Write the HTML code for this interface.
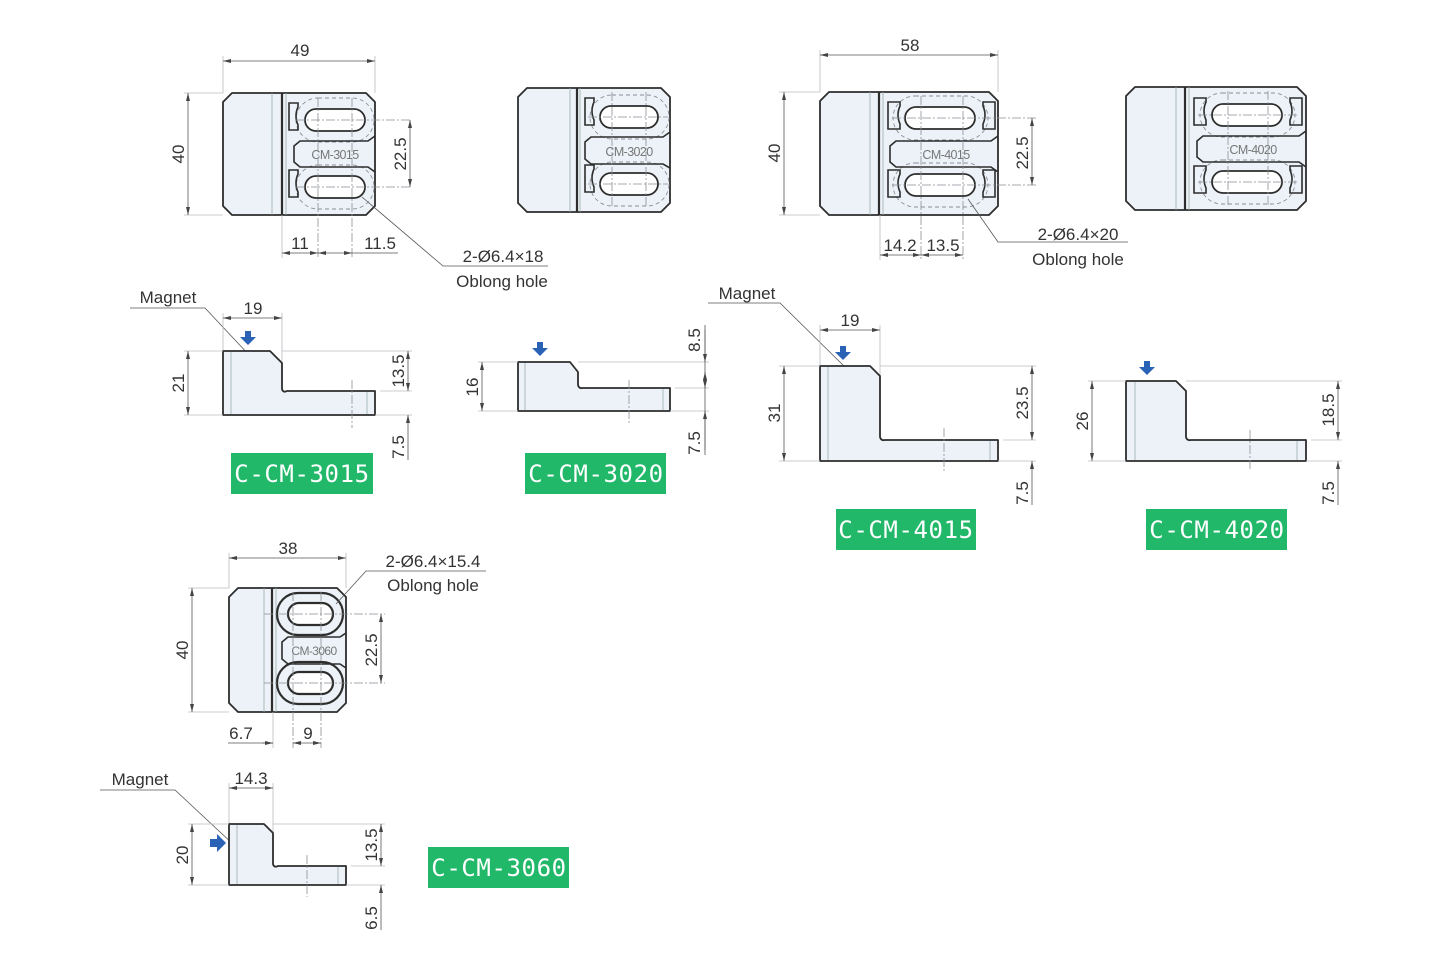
<!DOCTYPE html>
<html><head><meta charset="utf-8"><style>
html,body{margin:0;padding:0;background:#fff}
svg{display:block}
.o{stroke:#2d2d2d;stroke-width:1.8;fill:#ecf2f7;stroke-linejoin:round}
.w{stroke:#2d2d2d;stroke-width:1.8;fill:#fff}
.k{stroke:#2d2d2d;stroke-width:1.6;fill:none}
.t{stroke:#9aa;stroke-width:0.8;fill:none}
.d{stroke:#8a8f95;stroke-width:0.9;fill:none;stroke-dasharray:4 3}
.c{stroke:#8a8f95;stroke-width:0.8;fill:none;stroke-dasharray:9 2 2 2}
.e{stroke:#b8bcc0;stroke-width:0.8;fill:none}
.m{stroke:#555;stroke-width:0.8;fill:none}
.a{stroke:#555;stroke-width:0.8;fill:none;marker-start:url(#ar);marker-end:url(#ar)}
.a1{stroke:#555;stroke-width:0.8;fill:none;marker-start:url(#ar)}
text{font-family:"Liberation Sans","DejaVu Sans",sans-serif;font-size:17px;fill:#333}
.lab{font-family:"DejaVu Sans Mono","Liberation Mono",monospace;font-size:24px;fill:#fff;letter-spacing:0.6px}
.cm{font-size:12.5px;fill:#777;letter-spacing:-0.6px}
.g{fill:#22b86a}
.b{fill:#2a62b5}
</style></head><body>
<svg width="1450" height="972" viewBox="0 0 1450 972" xmlns="http://www.w3.org/2000/svg">
<defs>
<marker id="ar" viewBox="0 0 10 6" refX="10" refY="3" markerWidth="8" markerHeight="5" orient="auto-start-reverse" markerUnits="userSpaceOnUse"><path d="M10,3 L0,0.5 L0,5.5 Z" fill="#444"/></marker>
</defs>

<!-- ============ C-CM-3015 TOP ============ -->
<line class="e" x1="223" y1="56" x2="223" y2="93"/><line class="e" x1="375" y1="56" x2="375" y2="93"/>
<line class="a" x1="223" y1="61" x2="375" y2="61"/><text x="300" y="56" text-anchor="middle">49</text>
<line class="e" x1="184" y1="93" x2="223" y2="93"/><line class="e" x1="184" y1="215" x2="223" y2="215"/>
<line class="a" x1="188" y1="93" x2="188" y2="215"/><text transform="translate(184,154) rotate(-90)" text-anchor="middle">40</text>
<path class="o" d="M232,93 H366 L375,102 V206 L366,215 H232 L223,206 V102 Z"/>
<line class="t" x1="272" y1="93" x2="272" y2="215"/><line class="k" x1="282" y1="93" x2="282" y2="215" style="stroke-width:2.2"/><line class="t" x1="286" y1="93" x2="286" y2="215"/>
<rect class="d" x="296" y="98" width="78" height="44" rx="22"/><rect class="d" x="296" y="165" width="78" height="44" rx="22"/>
<path class="k" d="M289,103 h9 v4 q-4,9 0,18 v5 h-9 z M289,170 h9 v4 q-4,9 0,18 v5 h-9 z"/>
<path class="k" d="M375,136 L368,141 H300 L294,146 V162 L300,167 H368 L375,172"/>
<text class="cm" x="335" y="159" text-anchor="middle">CM-3015</text>
<rect class="w" x="305" y="109" width="60" height="22" rx="11"/><rect class="w" x="305" y="176" width="60" height="22" rx="11"/>
<line class="c" x1="296" y1="120" x2="412" y2="120"/><line class="c" x1="296" y1="187" x2="412" y2="187"/>
<line class="c" x1="318" y1="98" x2="318" y2="258"/><line class="c" x1="352" y1="98" x2="352" y2="258"/>
<line class="e" x1="282" y1="215" x2="282" y2="258"/>
<line class="a" x1="410" y1="120" x2="410" y2="187"/><text transform="translate(406,154) rotate(-90)" text-anchor="middle">22.5</text>
<line class="a" x1="282" y1="253" x2="318" y2="253"/><line class="a" x1="318" y1="253" x2="352" y2="253"/><line class="m" x1="352" y1="253" x2="398" y2="253"/>
<text x="300" y="249" text-anchor="middle">11</text><text x="380" y="249" text-anchor="middle">11.5</text>
<polyline class="m" points="362,197 443,266 548,266"/>
<text x="503" y="262" text-anchor="middle">2-Ø6.4×18</text><text x="502" y="287" text-anchor="middle">Oblong hole</text>

<!-- ============ C-CM-3020 TOP ============ -->
<path class="o" d="M527,88 H661 L670,97 V203 L661,212 H527 L518,203 V97 Z"/>
<line class="t" x1="570" y1="88" x2="570" y2="212"/><line class="k" x1="577" y1="88" x2="577" y2="212" style="stroke-width:2.2"/><line class="t" x1="580" y1="88" x2="580" y2="212"/>
<rect class="d" x="590" y="95" width="79" height="44" rx="22"/><rect class="d" x="590" y="162" width="79" height="44" rx="22"/>
<path class="k" d="M585,98 h9 v4 q-4,9 0,18 v5 h-9 z M585,165 h9 v4 q-4,9 0,18 v5 h-9 z"/>
<path class="k" d="M670,132 L663,137 H591 L585,142 V159 L591,164 H663 L670,168"/>
<text class="cm" x="629" y="156" text-anchor="middle">CM-3020</text>
<rect class="w" x="600" y="106" width="58" height="22" rx="11"/><rect class="w" x="600" y="173" width="58" height="22" rx="11"/>
<line class="c" x1="588" y1="117" x2="668" y2="117"/><line class="c" x1="588" y1="184" x2="668" y2="184"/>
<line class="c" x1="612" y1="92" x2="612" y2="208"/><line class="c" x1="646" y1="92" x2="646" y2="208"/>

<!-- ============ C-CM-4015 TOP ============ -->
<line class="e" x1="820" y1="50" x2="820" y2="92"/><line class="e" x1="998" y1="50" x2="998" y2="92"/>
<line class="a" x1="820" y1="55" x2="998" y2="55"/><text x="910" y="51" text-anchor="middle">58</text>
<line class="e" x1="779" y1="92" x2="820" y2="92"/><line class="e" x1="779" y1="215" x2="820" y2="215"/>
<line class="a" x1="784" y1="92" x2="784" y2="215"/><text transform="translate(780,153) rotate(-90)" text-anchor="middle">40</text>
<path class="o" d="M829,92 H989 L998,101 V206 L989,215 H829 L820,206 V101 Z"/>
<line class="t" x1="870" y1="92" x2="870" y2="215"/><line class="k" x1="879" y1="92" x2="879" y2="215" style="stroke-width:2.2"/><line class="t" x1="883" y1="92" x2="883" y2="215"/>
<rect class="d" x="893" y="96" width="95" height="44" rx="22"/><rect class="d" x="893" y="163" width="95" height="44" rx="22"/>
<path class="k" d="M888,102 h12 v4 q-4,9 0,18 v5 h-12 z M888,170 h12 v4 q-4,9 0,18 v5 h-12 z M995,102 h-12 v4 q4,9 0,18 v5 h12 z M995,170 h-12 v4 q4,9 0,18 v5 h12 z"/>
<path class="k" d="M998,136 L991,141 H896 L890,146 V162 L896,167 H991 L998,172"/>
<text class="cm" x="946" y="159" text-anchor="middle">CM-4015</text>
<rect class="w" x="905" y="107" width="70" height="22" rx="11"/><rect class="w" x="905" y="174" width="70" height="22" rx="11"/>
<line class="c" x1="892" y1="118" x2="1036" y2="118"/><line class="c" x1="892" y1="185" x2="1036" y2="185"/>
<line class="c" x1="921" y1="96" x2="921" y2="260"/><line class="c" x1="963" y1="96" x2="963" y2="260"/>
<line class="e" x1="880" y1="215" x2="880" y2="260"/>
<line class="a" x1="1032" y1="118" x2="1032" y2="185"/><text transform="translate(1028,153) rotate(-90)" text-anchor="middle">22.5</text>
<line class="a" x1="880" y1="255" x2="921" y2="255"/><line class="a" x1="921" y1="255" x2="963" y2="255"/>
<text x="900" y="251" text-anchor="middle">14.2</text><text x="943" y="251" text-anchor="middle">13.5</text>
<polyline class="m" points="968,199 998,242 1128,242"/>
<text x="1078" y="240" text-anchor="middle">2-Ø6.4×20</text><text x="1078" y="265" text-anchor="middle">Oblong hole</text>

<!-- ============ C-CM-4020 TOP ============ -->
<path class="o" d="M1135,87 H1297 L1306,96 V201 L1297,210 H1135 L1126,201 V96 Z"/>
<line class="t" x1="1176" y1="87" x2="1176" y2="210"/><line class="k" x1="1185" y1="87" x2="1185" y2="210" style="stroke-width:2.2"/><line class="t" x1="1189" y1="87" x2="1189" y2="210"/>
<rect class="d" x="1200" y="93" width="95" height="44" rx="22"/><rect class="d" x="1200" y="160" width="95" height="44" rx="22"/>
<path class="k" d="M1194,98 h12 v4 q-4,9 0,18 v5 h-12 z M1194,166 h12 v4 q-4,9 0,18 v5 h-12 z M1302,98 h-12 v4 q4,9 0,18 v5 h12 z M1302,166 h-12 v4 q4,9 0,18 v5 h12 z"/>
<path class="k" d="M1306,131 L1299,136 H1203 L1197,141 V157 L1203,162 H1299 L1306,167"/>
<text class="cm" x="1253" y="154" text-anchor="middle">CM-4020</text>
<rect class="w" x="1212" y="104" width="70" height="22" rx="11"/><rect class="w" x="1212" y="171" width="70" height="22" rx="11"/>
<line class="c" x1="1198" y1="115" x2="1298" y2="115"/><line class="c" x1="1198" y1="182" x2="1298" y2="182"/>
<line class="c" x1="1228" y1="91" x2="1228" y2="206"/><line class="c" x1="1268" y1="91" x2="1268" y2="206"/>

<!-- ============ C-CM-3015 SIDE ============ -->
<text x="168" y="303" text-anchor="middle">Magnet</text>
<polyline class="m" points="130,308 205,308 250,356"/>
<line class="e" x1="223" y1="313" x2="223" y2="351"/><line class="e" x1="282" y1="313" x2="282" y2="361"/>
<line class="a" x1="223" y1="318" x2="282" y2="318"/><text x="253" y="314" text-anchor="middle">19</text>
<path class="o" d="M223,351 H270 L282,363 V389 Q283,393 287,391 H375 V415 H223 Z"/>
<line class="t" x1="231" y1="352" x2="231" y2="414"/><line class="t" x1="367" y1="392" x2="367" y2="414"/>
<line class="c" x1="352" y1="380" x2="352" y2="428"/>
<line class="e" x1="184" y1="351" x2="223" y2="351"/><line class="e" x1="184" y1="415" x2="223" y2="415"/>
<line class="e" x1="282" y1="351" x2="412" y2="351"/><line class="e" x1="380" y1="391" x2="412" y2="391"/><line class="e" x1="375" y1="415" x2="412" y2="415"/>
<line class="a" x1="188" y1="351" x2="188" y2="415"/><text transform="translate(184,383) rotate(-90)" text-anchor="middle">21</text>
<line class="a" x1="408" y1="351" x2="408" y2="391"/><line class="a1" x1="408" y1="415" x2="408" y2="460"/>
<text transform="translate(404,371) rotate(-90)" text-anchor="middle">13.5</text><text transform="translate(404,447) rotate(-90)" text-anchor="middle">7.5</text>
<path class="b" d="M245,331 h6 v6 h5 l-8,8 l-8,-8 h5 z"/>
<rect class="g" x="231" y="453" width="142" height="41"/><text class="lab" x="302" y="482" text-anchor="middle">C-CM-3015</text>

<!-- ============ C-CM-3020 SIDE ============ -->
<path class="o" d="M518,362 H570 L578,372 V385 Q579,389 583,388 H670 V411 H518 Z"/>
<line class="t" x1="525" y1="363" x2="525" y2="410"/><line class="t" x1="663" y1="389" x2="663" y2="410"/>
<line class="c" x1="629" y1="380" x2="629" y2="425"/>
<line class="e" x1="478" y1="362" x2="518" y2="362"/><line class="e" x1="478" y1="411" x2="518" y2="411"/>
<line class="e" x1="578" y1="362" x2="709" y2="362"/><line class="e" x1="675" y1="388" x2="709" y2="388"/><line class="e" x1="670" y1="411" x2="709" y2="411"/>
<line class="a" x1="482" y1="362" x2="482" y2="411"/><text transform="translate(478,387) rotate(-90)" text-anchor="middle">16</text>
<line class="m" x1="705" y1="325" x2="705" y2="455"/>
<line class="a1" x1="705" y1="362" x2="705" y2="330"/><line class="a" x1="705" y1="372" x2="705" y2="388"/><line class="a1" x1="705" y1="411" x2="705" y2="450"/>
<text transform="translate(700,340) rotate(-90)" text-anchor="middle">8.5</text><text transform="translate(700,443) rotate(-90)" text-anchor="middle">7.5</text>
<path class="b" d="M537,342 h6 v6 h5 l-8,8 l-8,-8 h5 z"/>
<rect class="g" x="525" y="453" width="141" height="41"/><text class="lab" x="596" y="482" text-anchor="middle">C-CM-3020</text>

<!-- ============ C-CM-4015 SIDE ============ -->
<text x="747" y="299" text-anchor="middle">Magnet</text>
<polyline class="m" points="708,303 780,303 848,370"/>
<line class="e" x1="820" y1="325" x2="820" y2="366"/><line class="e" x1="880" y1="325" x2="880" y2="376"/>
<line class="a" x1="820" y1="330" x2="880" y2="330"/><text x="850" y="326" text-anchor="middle">19</text>
<path class="o" d="M820,366 H870 L880,376 V437 Q881,441 885,440 H998 V461 H820 Z"/>
<line class="t" x1="828" y1="367" x2="828" y2="460"/><line class="t" x1="990" y1="441" x2="990" y2="460"/>
<line class="c" x1="944" y1="428" x2="944" y2="473"/>
<line class="e" x1="779" y1="366" x2="820" y2="366"/><line class="e" x1="779" y1="461" x2="820" y2="461"/>
<line class="e" x1="880" y1="366" x2="1036" y2="366"/><line class="e" x1="1003" y1="440" x2="1036" y2="440"/><line class="e" x1="998" y1="461" x2="1036" y2="461"/>
<line class="a" x1="784" y1="366" x2="784" y2="461"/><text transform="translate(780,413) rotate(-90)" text-anchor="middle">31</text>
<line class="a" x1="1032" y1="366" x2="1032" y2="440"/><line class="a1" x1="1032" y1="461" x2="1032" y2="505"/>
<text transform="translate(1028,403) rotate(-90)" text-anchor="middle">23.5</text><text transform="translate(1028,493) rotate(-90)" text-anchor="middle">7.5</text>
<path class="b" d="M840,346 h6 v6 h5 l-8,8 l-8,-8 h5 z"/>
<rect class="g" x="836" y="509" width="140" height="41"/><text class="lab" x="906" y="538" text-anchor="middle">C-CM-4015</text>

<!-- ============ C-CM-4020 SIDE ============ -->
<path class="o" d="M1126,381 H1176 L1186,391 V437 Q1187,441 1191,440 H1306 V461 H1126 Z"/>
<line class="t" x1="1135" y1="382" x2="1135" y2="460"/><line class="t" x1="1297" y1="441" x2="1297" y2="460"/>
<line class="c" x1="1250" y1="430" x2="1250" y2="470"/>
<line class="e" x1="1088" y1="381" x2="1126" y2="381"/><line class="e" x1="1088" y1="461" x2="1126" y2="461"/>
<line class="e" x1="1186" y1="381" x2="1342" y2="381"/><line class="e" x1="1311" y1="440" x2="1342" y2="440"/><line class="e" x1="1306" y1="461" x2="1342" y2="461"/>
<line class="a" x1="1092" y1="381" x2="1092" y2="461"/><text transform="translate(1088,421) rotate(-90)" text-anchor="middle">26</text>
<line class="a" x1="1338" y1="381" x2="1338" y2="440"/><line class="a1" x1="1338" y1="461" x2="1338" y2="505"/>
<text transform="translate(1334,410) rotate(-90)" text-anchor="middle">18.5</text><text transform="translate(1334,493) rotate(-90)" text-anchor="middle">7.5</text>
<path class="b" d="M1144,361 h6 v6 h5 l-8,8 l-8,-8 h5 z"/>
<rect class="g" x="1146" y="509" width="141" height="41"/><text class="lab" x="1217" y="538" text-anchor="middle">C-CM-4020</text>

<!-- ============ C-CM-3060 TOP ============ -->
<line class="e" x1="229" y1="553" x2="229" y2="588"/><line class="e" x1="346" y1="553" x2="346" y2="588"/>
<line class="a" x1="229" y1="558" x2="346" y2="558"/><text x="288" y="554" text-anchor="middle">38</text>
<line class="e" x1="188" y1="588" x2="229" y2="588"/><line class="e" x1="188" y1="712" x2="229" y2="712"/>
<line class="a" x1="192" y1="588" x2="192" y2="712"/><text transform="translate(188,650) rotate(-90)" text-anchor="middle">40</text>
<path class="o" d="M238,588 H337 L346,597 V703 L337,712 H238 L229,703 V597 Z"/>
<line class="t" x1="264" y1="588" x2="264" y2="712"/><line class="k" x1="272" y1="588" x2="272" y2="712" style="stroke-width:2.2"/><line class="t" x1="276" y1="588" x2="276" y2="712"/>
<rect class="w" x="277" y="593" width="66" height="42" rx="21" style="stroke-width:2.2;fill:#ecf2f7"/><rect class="w" x="277" y="662" width="66" height="42" rx="21" style="stroke-width:2.2;fill:#ecf2f7"/>
<path class="k" d="M346,633 L340,637 H288 L282,642 V659 L288,664 H340 L346,668"/>
<text class="cm" x="314" y="655" text-anchor="middle" style="font-size:12px">CM-3060</text>
<rect class="w" x="288" y="603" width="45" height="22" rx="11" style="stroke-width:2.2"/><rect class="w" x="288" y="672" width="45" height="22" rx="11" style="stroke-width:2.2"/>
<line class="c" x1="264" y1="614" x2="385" y2="614"/><line class="c" x1="264" y1="683" x2="385" y2="683"/>
<line class="c" x1="293" y1="592" x2="293" y2="748"/><line class="c" x1="321" y1="592" x2="321" y2="748"/>
<line class="e" x1="273" y1="712" x2="273" y2="748"/>
<line class="a" x1="381" y1="614" x2="381" y2="683"/><text transform="translate(377,650) rotate(-90)" text-anchor="middle">22.5</text>
<line class="m" x1="228" y1="743" x2="273" y2="743"/><line class="a1" x1="273" y1="743" x2="262" y2="743"/>
<line class="a" x1="293" y1="743" x2="321" y2="743"/>
<text x="241" y="739" text-anchor="middle">6.7</text><text x="308" y="739" text-anchor="middle">9</text>
<polyline class="m" points="336,604 366,571 486,571"/>
<text x="433" y="567" text-anchor="middle">2-Ø6.4×15.4</text><text x="433" y="591" text-anchor="middle">Oblong hole</text>

<!-- ============ C-CM-3060 SIDE ============ -->
<text x="140" y="785" text-anchor="middle">Magnet</text>
<polyline class="m" points="100,790 175,790 234,845"/>
<line class="e" x1="229" y1="783" x2="229" y2="824"/><line class="e" x1="273" y1="783" x2="273" y2="833"/>
<line class="a" x1="229" y1="788" x2="273" y2="788"/><text x="251" y="784" text-anchor="middle">14.3</text>
<path class="o" d="M229,824 H264 L273,833 V864 Q274,868 278,866 H346 V885 H229 Z"/>
<line class="t" x1="237" y1="825" x2="237" y2="884"/><line class="t" x1="338" y1="867" x2="338" y2="884"/>
<line class="c" x1="307" y1="855" x2="307" y2="897"/>
<line class="e" x1="188" y1="824" x2="229" y2="824"/><line class="e" x1="188" y1="885" x2="229" y2="885"/>
<line class="e" x1="273" y1="824" x2="385" y2="824"/><line class="e" x1="351" y1="866" x2="385" y2="866"/><line class="e" x1="346" y1="885" x2="385" y2="885"/>
<line class="a" x1="192" y1="824" x2="192" y2="885"/><text transform="translate(188,855) rotate(-90)" text-anchor="middle">20</text>
<line class="a" x1="381" y1="824" x2="381" y2="866"/><line class="a1" x1="381" y1="885" x2="381" y2="930"/>
<text transform="translate(377,845) rotate(-90)" text-anchor="middle">13.5</text><text transform="translate(377,918) rotate(-90)" text-anchor="middle">6.5</text>
<path class="b" d="M210,839 h7 v-5 l9,9 l-9,9 v-5 h-7 z"/>
<rect class="g" x="428" y="847" width="141" height="41"/><text class="lab" x="499" y="876" text-anchor="middle">C-CM-3060</text>
</svg>
</body></html>
